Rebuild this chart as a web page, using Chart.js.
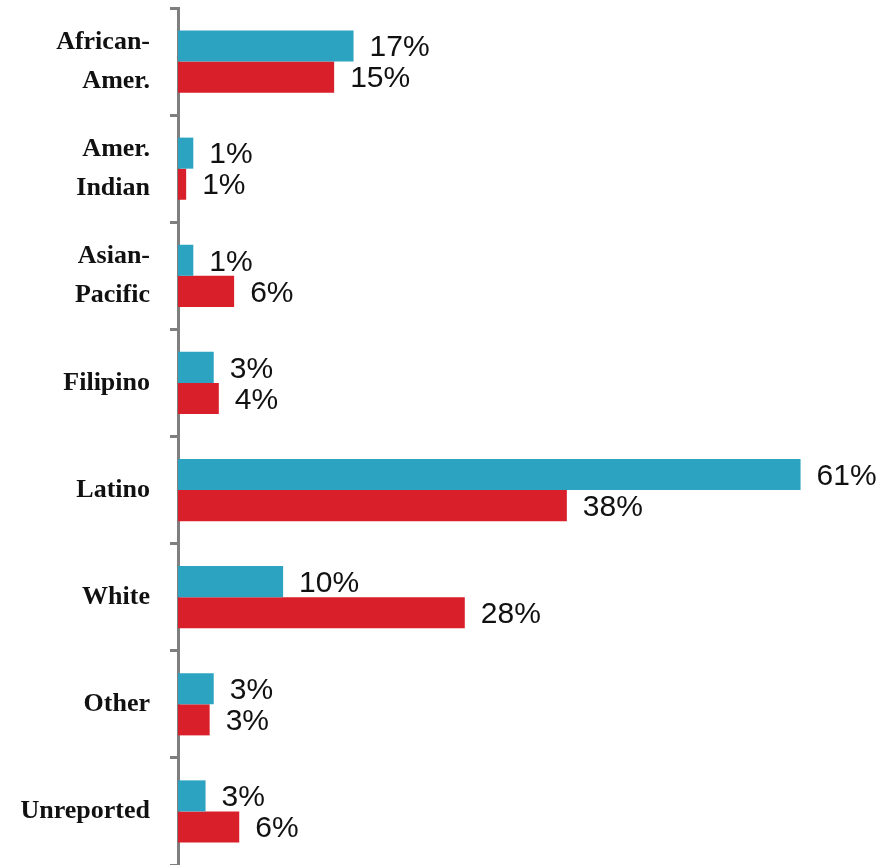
<!DOCTYPE html>
<html>
<head>
<meta charset="utf-8">
<script src="https://cdn.jsdelivr.net/npm/chart.js@4.4.0/dist/chart.umd.min.js"></script>
<style>
  html, body { margin: 0; padding: 0; background: #fff; }
  #wrap { width: 880px; height: 865px; position: relative; }
</style>
</head>
<body>
<div id="wrap"><canvas id="chart"></canvas></div>
<script>
// categories (top to bottom)
const categories = [['African-', 'Amer.'], ['Amer.', 'Indian'], ['Asian-', 'Pacific'], 'Filipino', 'Latino', 'White', 'Other', 'Unreported'];

// bar lengths
const tealValues = [17.2, 1.5, 1.5, 3.5, 61, 10.3, 3.5, 2.7];
const redValues  = [15.3, 0.8, 5.5, 4.0, 38.1, 28.1, 3.1, 6.0];

// printed value labels
const tealLabels = ['17%', '1%', '1%', '3%', '61%', '10%', '3%', '3%'];
const redLabels  = ['15%', '1%', '6%', '4%', '38%', '28%', '3%', '6%'];

// ── value labels drawn right of each bar ──
const valueLabels = {
  id: 'valueLabels',
  afterDatasetsDraw(chart) {
    const ctx = chart.ctx;
    ctx.save();
    ctx.font = '30px "Liberation Sans", Arial, sans-serif';
    ctx.fillStyle = '#111';
    ctx.textAlign = 'left';
    ctx.textBaseline = 'middle';
    chart.data.datasets.forEach((ds, di) => {
      const meta = chart.getDatasetMeta(di);
      meta.data.forEach((bar, i) => {
        ctx.fillText(ds.valueText[i], bar.x + 16, bar.y + 2);
      });
    });
    ctx.restore();
  }
};

new Chart(document.getElementById('chart'), {
  type: 'bar',
  data: {
    labels: categories,
    datasets: [
      { data: tealValues, valueText: tealLabels, backgroundColor: '#2ca3c1', barPercentage: 1, categoryPercentage: 0.58 },
      { data: redValues,  valueText: redLabels,  backgroundColor: '#d91f2a', barPercentage: 1, categoryPercentage: 0.58 },
    ],
  },
  options: {
    indexAxis: 'y',
    responsive: true, maintainAspectRatio: false,
    animation: false,
    layout: { padding: { top: 8, right: 8, bottom: 0, left: 0 } },
    plugins: { legend: { display: false }, tooltip: { enabled: false } },
    scales: {
      x: { display: false, min: 0, max: 68 },
      y: {
        afterFit(scale) {
          scale.width = 178;
          scale.paddingTop = 0;
          scale.paddingBottom = 0;
        },
        border: { display: true, color: '#7f7f7f', width: 3 },
        grid: { offset: true, drawOnChartArea: false, drawTicks: true, tickLength: 8, color: '#7f7f7f', lineWidth: 3 },
        ticks: {
          color: '#111', padding: 20,
          font: { family: '"Liberation Serif", "DejaVu Serif", serif', size: 26, weight: 'bold', lineHeight: 1.5 },
        },
      },
    },
  },
  plugins: [valueLabels],
});
</script>
</body>
</html>
